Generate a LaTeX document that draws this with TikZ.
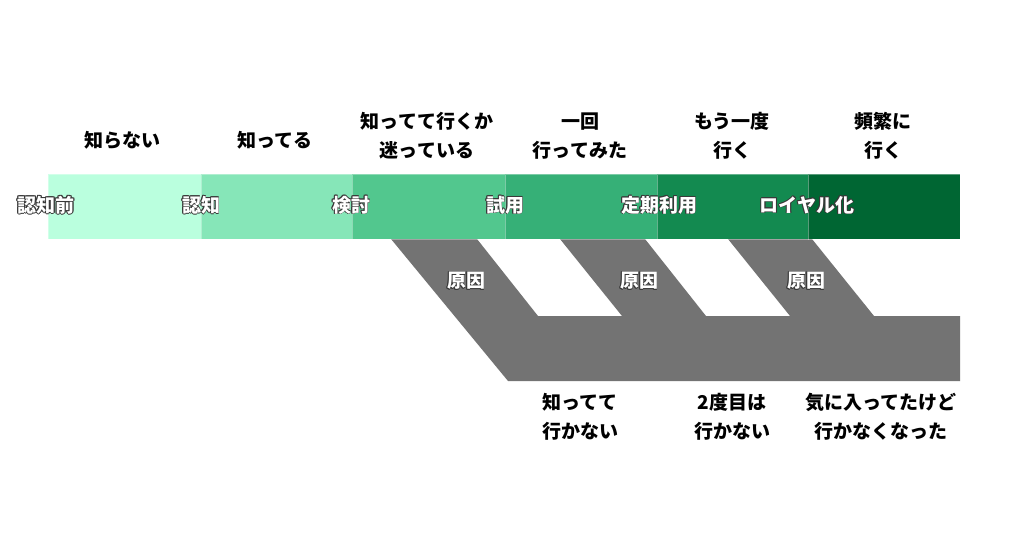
\documentclass[tikz,border=0pt]{standalone}
\usepackage{fontspec}
\setmainfont{Noto Sans CJK JP}
\definecolor{c1}{HTML}{BAFFDE}
\definecolor{c2}{HTML}{86E6B8}
\definecolor{c3}{HTML}{52C78E}
\definecolor{c4}{HTML}{36B077}
\definecolor{c5}{HTML}{138A50}
\definecolor{c6}{HTML}{006633}
\definecolor{gry}{HTML}{737373}
\definecolor{olc}{HTML}{383838}
\newcommand\olshift[3]{\makebox[0pt][l]{\hspace*{#1}\raisebox{#2}{\textcolor{olc}{#3}}}}
\newcommand\olt[1]{%
  \olshift{-0.8pt}{0pt}{#1}\olshift{0.8pt}{0pt}{#1}%
  \olshift{0pt}{0.8pt}{#1}\olshift{0pt}{-0.8pt}{#1}%
  \olshift{0.6pt}{0.6pt}{#1}\olshift{-0.6pt}{0.6pt}{#1}%
  \olshift{0.6pt}{-0.6pt}{#1}\olshift{-0.6pt}{-0.6pt}{#1}%
  \textcolor{white}{#1}}
\tikzset{
  seg/.style={draw=white, draw opacity=0.35, line width=0.8pt, minimum height=65pt, inner sep=0pt, outer sep=0pt},
  lbl/.style={font=\fontsize{19}{29}\selectfont\bfseries, align=center, text=black, inner sep=0pt},
  olbl/.style={font=\fontsize{19}{29}\selectfont\bfseries, inner sep=0pt},
}
\begin{document}
\begin{tikzpicture}[x=1pt,y=-1pt]
\useasboundingbox[fill=white] (0,0) rectangle (1024,538);
% grey cause band
\fill[gry] (391,239) -- (477,239) -- (538,316) -- (622,316) -- (560,239) -- (645,239)
  -- (706,316) -- (790,316) -- (728,239) -- (812,239) -- (874,316) -- (960,316)
  -- (960,381) -- (508,381) -- cycle;
% stage bar
\node[seg, fill=c1, minimum width=153pt] (s1) at (124.5,206.5) {};
\node[seg, fill=c2, minimum width=151pt] (s2) at (276.5,206.5) {};
\node[seg, fill=c3, minimum width=153pt] (s3) at (428.5,206.5) {};
\node[seg, fill=c4, minimum width=152pt] (s4) at (581,206.5) {};
\node[seg, fill=c5, minimum width=151pt] (s5) at (732.5,206.5) {};
\node[seg, fill=c6, minimum width=152pt] (s6) at (884,206.5) {};
% stage names
\node[olbl] (n1) at (46,205) {\olt{認知前}};
\node[olbl] (n2) at (201,205) {\olt{認知}};
\node[olbl] (n3) at (351,205) {\olt{検討}};
\node[olbl] (n4) at (505,205) {\olt{試用}};
\node[olbl] (n5) at (659,205) {\olt{定期利用}};
\node[olbl] (n6) at (807,205) {\olt{ロイヤル化}};
% top labels
\node[lbl] (t1) at (122,140) {知らない};
\node[lbl] (t2) at (275,140) {知ってる};
\node[lbl] (t3) at (427,136) {知ってて行くか\\迷っている};
\node[lbl] (t4) at (580,136) {一回\\行ってみた};
\node[lbl] (t5) at (732,136) {もう一度\\行く};
\node[lbl] (t6) at (883,136) {頻繁に\\行く};
% cause labels
\node[olbl] (r1) at (466,281) {\olt{原因}};
\node[olbl] (r2) at (639,281) {\olt{原因}};
\node[olbl] (r3) at (806,281) {\olt{原因}};
% bottom labels
\node[lbl] (b1) at (580,417) {知ってて\\行かない};
\node[lbl] (b2) at (732,417) {2度目は\\行かない};
\node[lbl] (b3) at (881,417) {気に入ってたけど\\行かなくなった};
\end{tikzpicture}
\end{document}
